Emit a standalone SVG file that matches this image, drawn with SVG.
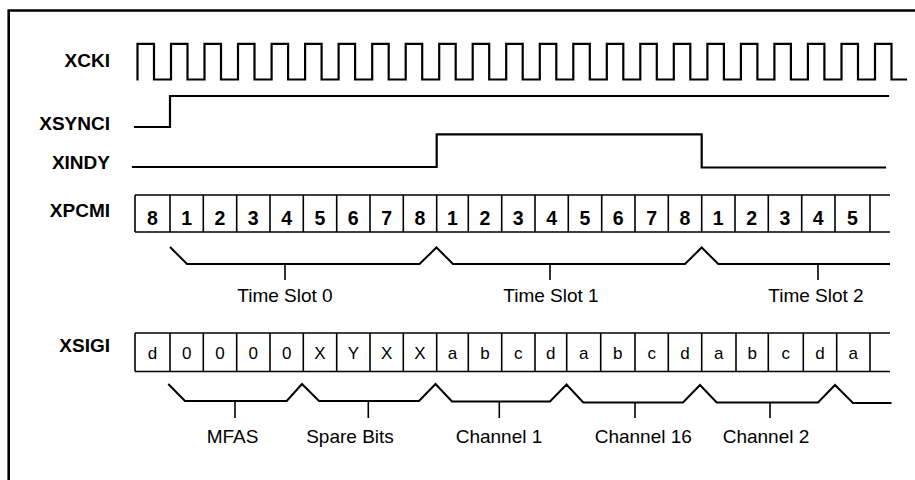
<svg xmlns="http://www.w3.org/2000/svg" width="915" height="480" viewBox="0 0 915 480">
<style>
.sig{fill:none;stroke:#000;stroke-width:2.2;stroke-linejoin:miter;stroke-linecap:square}
.cell{fill:none;stroke:#000;stroke-width:1.6}
.brace{fill:none;stroke:#000;stroke-width:2;stroke-linejoin:miter}
.tick{stroke:#000;stroke-width:1.6}
.name{font-family:"Liberation Sans",Arial,sans-serif;font-weight:bold;font-size:19px;text-anchor:end;fill:#000}
.pcm{font-family:"Liberation Sans",Arial,sans-serif;font-weight:bold;font-size:19.5px;text-anchor:middle;fill:#000}
.sg{font-family:"Liberation Sans",Arial,sans-serif;font-size:17px;text-anchor:middle;fill:#000}
.lbl{font-family:"Liberation Sans",Arial,sans-serif;font-size:19px;text-anchor:middle;fill:#000}
</style>
<rect width="915" height="480" fill="#fff"/>
<g id="frame">
<path d="M8.7,480 V10.5 H915" fill="none" stroke="#000" stroke-width="2.6"/>
</g>
<g id="xcki">
<text class="name" x="110" y="66.5">XCKI</text>
<path class="sig" d="M137.5,79.5 V43.8 H154 V79.5 H171 V43.8 H187.5 V79.5 H204.5 V43.8 H221 V79.5 H238 V43.8 H254.5 V79.5 H271.6 V43.8 H288.1 V79.5 H305.1 V43.8 H321.6 V79.5 H338.6 V43.8 H355.1 V79.5 H372.2 V43.8 H388.7 V79.5 H405.7 V43.8 H422.2 V79.5 H439.2 V43.8 H455.7 V79.5 H472.7 V43.8 H489.2 V79.5 H506.2 V43.8 H522.7 V79.5 H539.8 V43.8 H556.3 V79.5 H573.3 V43.8 H589.8 V79.5 H606.8 V43.8 H623.3 V79.5 H640.3 V43.8 H656.8 V79.5 H673.8 V43.8 H690.3 V79.5 H707.4 V43.8 H723.9 V79.5 H740.9 V43.8 H757.4 V79.5 H774.4 V43.8 H790.9 V79.5 H807.9 V43.8 H824.4 V79.5 H841.5 V43.8 H858 V79.5 H875 V43.8 H891.5 V79.5 H906"/>
</g>
<g id="xsynci">
<text class="name" x="110" y="129.5">XSYNCI</text>
<path class="sig" d="M135,127 H170 V96 H888"/>
</g>
<g id="xindy">
<text class="name" x="110" y="168.5">XINDY</text>
<path class="sig" d="M133,167 H436.7 V134.3 H701.7 V167.5 H885"/>
</g>
<g id="xpcmi">
<text class="name" x="110" y="216.5">XPCMI</text>
<path class="cell" d="M135,195 H890 M135,232 H890 M135,195 V232 M170,195 V232 M203.3,195 V232 M236.7,195 V232 M270,195 V232 M303.3,195 V232 M336.7,195 V232 M370,195 V232 M403.3,195 V232 M436.7,195 V232 M468.3,195 V232 M501.7,195 V232 M535,195 V232 M568.3,195 V232 M601.7,195 V232 M635,195 V232 M668.3,195 V232 M701.7,195 V232 M735,195 V232 M768.3,195 V232 M801.7,195 V232 M835,195 V232 M870,195 V232"/>
<text class="pcm" x="152.5" y="225">8</text>
<text class="pcm" x="186.7" y="225">1</text>
<text class="pcm" x="220" y="225">2</text>
<text class="pcm" x="253.3" y="225">3</text>
<text class="pcm" x="286.7" y="225">4</text>
<text class="pcm" x="320" y="225">5</text>
<text class="pcm" x="353.3" y="225">6</text>
<text class="pcm" x="386.7" y="225">7</text>
<text class="pcm" x="420" y="225">8</text>
<text class="pcm" x="452.5" y="225">1</text>
<text class="pcm" x="485" y="225">2</text>
<text class="pcm" x="518.3" y="225">3</text>
<text class="pcm" x="551.7" y="225">4</text>
<text class="pcm" x="585" y="225">5</text>
<text class="pcm" x="618.3" y="225">6</text>
<text class="pcm" x="651.7" y="225">7</text>
<text class="pcm" x="685" y="225">8</text>
<text class="pcm" x="718.3" y="225">1</text>
<text class="pcm" x="751.7" y="225">2</text>
<text class="pcm" x="785" y="225">3</text>
<text class="pcm" x="818.3" y="225">4</text>
<text class="pcm" x="852.5" y="225">5</text>
</g>
<g id="timeslots">
<path class="brace" d="M170,247 L187,264 H419.5 L436.5,247.5 L453,264 H685 L701.7,247.5 L718.3,264 H890"/>
<path class="tick" d="M285,264 V280 M550,264 V280 M818,264 V280"/>
<text class="lbl" x="285" y="302">Time Slot 0</text>
<text class="lbl" x="551" y="302">Time Slot 1</text>
<text class="lbl" x="816" y="302">Time Slot 2</text>
</g>
<g id="xsigi">
<text class="name" x="110" y="351.5">XSIGI</text>
<path class="cell" d="M135,333 H890 M135,371.5 H890 M135,333 V371.5 M170,333 V371.5 M203.3,333 V371.5 M236.7,333 V371.5 M270,333 V371.5 M303.3,333 V371.5 M336.7,333 V371.5 M370,333 V371.5 M403.3,333 V371.5 M436.7,333 V371.5 M468.3,333 V371.5 M501.7,333 V371.5 M535,333 V371.5 M566.7,333 V371.5 M600.7,333 V371.5 M635,333 V371.5 M668.3,333 V371.5 M701.7,333 V371.5 M736,333 V371.5 M768.3,333 V371.5 M803.3,333 V371.5 M836.7,333 V371.5 M870,333 V371.5"/>
<text class="sg" x="152.5" y="359">d</text>
<text class="sg" x="186.7" y="359">0</text>
<text class="sg" x="220" y="359">0</text>
<text class="sg" x="253.3" y="359">0</text>
<text class="sg" x="286.7" y="359">0</text>
<text class="sg" x="320" y="359">X</text>
<text class="sg" x="353.3" y="359">Y</text>
<text class="sg" x="386.7" y="359">X</text>
<text class="sg" x="420" y="359">X</text>
<text class="sg" x="452.5" y="359">a</text>
<text class="sg" x="485" y="359">b</text>
<text class="sg" x="518.3" y="359">c</text>
<text class="sg" x="550.8" y="359">d</text>
<text class="sg" x="583.7" y="359">a</text>
<text class="sg" x="617.8" y="359">b</text>
<text class="sg" x="651.7" y="359">c</text>
<text class="sg" x="685" y="359">d</text>
<text class="sg" x="718.8" y="359">a</text>
<text class="sg" x="752.2" y="359">b</text>
<text class="sg" x="785.8" y="359">c</text>
<text class="sg" x="820" y="359">d</text>
<text class="sg" x="853.3" y="359">a</text>
</g>
<g id="sigfields">
<path class="brace" d="M168.3,384 L185,401 H286.7 L302,384 L319,401 H419 L435.5,384 L452,401.5 H550 L566.5,384.5 L583.3,402.5 H683 L700,385 L716.7,402.5 H818 L835,385 L853,403 H891.5"/>
<path class="tick" d="M235,401 V418 M368.3,401 V418 M499.3,401.5 V418 M635,402.5 V418 M770,402.5 V418"/>
<text class="lbl" x="232.5" y="443">MFAS</text>
<text class="lbl" x="350" y="443">Spare Bits</text>
<text class="lbl" x="499" y="443">Channel 1</text>
<text class="lbl" x="643.3" y="443">Channel 16</text>
<text class="lbl" x="766" y="443">Channel 2</text>
</g>
</svg>
